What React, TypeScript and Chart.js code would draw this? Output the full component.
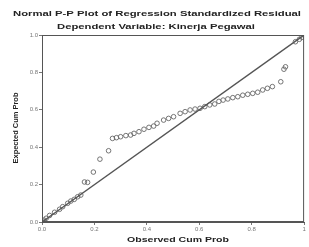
import React, { useEffect, useRef } from "react";
import { Chart, registerables } from "chart.js";

Chart.register(...registerables);

const chartTitle = "Normal P-P Plot of Regression Standardized Residual";
const chartSubtitle = "Dependent Variable: Kinerja Pegawai";
const xAxisTitle = "Observed Cum Prob";
const yAxisTitle = "Expected Cum Prob";

const xTickLabels = ["0.0", "0.2", "0.4", "0.6", "0.8", "1"];
const yTickLabels = ["0.0", "0.2", "0.4", "0.6", "0.8", "1.0"];

const observedCumProb = [
  0.0, 0.008, 0.016, 0.029, 0.048, 0.067, 0.079, 0.098, 0.11, 0.123,
  0.136, 0.148, 0.162, 0.174, 0.196, 0.221, 0.254, 0.269, 0.284, 0.3,
  0.32, 0.338, 0.351, 0.37, 0.389, 0.408, 0.426, 0.439, 0.464, 0.483,
  0.502, 0.527, 0.546, 0.565, 0.584, 0.603, 0.621, 0.64, 0.659, 0.675,
  0.691, 0.709, 0.728, 0.747, 0.766, 0.785, 0.804, 0.823, 0.842, 0.86,
  0.879, 0.911, 0.923, 0.929, 0.967, 0.982, 0.992, 1.0,
];
const expectedCumProb = [
  0.002, 0.01, 0.02, 0.035, 0.052, 0.068, 0.082, 0.1, 0.112, 0.121,
  0.135, 0.144, 0.214, 0.212, 0.267, 0.336, 0.381, 0.447, 0.451, 0.456,
  0.462, 0.465, 0.474, 0.483, 0.496, 0.506, 0.513, 0.528, 0.545, 0.554,
  0.563, 0.581, 0.59, 0.599, 0.604, 0.608, 0.617, 0.626, 0.631, 0.645,
  0.652, 0.658, 0.665, 0.67, 0.678, 0.683, 0.688, 0.694, 0.706, 0.715,
  0.724, 0.75, 0.817, 0.83, 0.964, 0.977, 0.988, 1.0,
];
const diagonalX = [0, 1];
const diagonalY = [0, 1];

function fitText(ctx: CanvasRenderingContext2D, text: string, cx: number, cy: number, width: number, angle = 0) {
  const natural = ctx.measureText(text).width;
  const sx = natural > 0 ? width / natural : 1;
  ctx.save();
  ctx.translate(cx, cy);
  if (angle) ctx.rotate(angle);
  ctx.scale(sx, 1);
  ctx.textAlign = "center";
  ctx.textBaseline = "middle";
  ctx.fillText(text, 0, 0);
  ctx.restore();
}

export default function App() {
  const canvasRef = useRef<HTMLCanvasElement | null>(null);

  useEffect(() => {
    document.body.style.margin = "0";
    const canvas = canvasRef.current;
    if (!canvas) return;

    const framePlugin = {
      id: "framePlugin",
      afterDraw(chart: any) {
        const ctx = chart.ctx;
        const a = chart.chartArea;
        ctx.save();
        ctx.strokeStyle = "#555";
        ctx.lineWidth = 1;
        ctx.strokeRect(a.left + 0.5, a.top + 0.5, a.right - a.left - 1, a.bottom - a.top - 1);
        ctx.fillStyle = "#222";
        ctx.font = "bold 8px 'Liberation Sans', Arial, sans-serif";
        fitText(ctx, chartTitle, 157, 14, 288);
        fitText(ctx, chartSubtitle, 156, 27, 198);
        fitText(ctx, xAxisTitle, 178, 240, 102);
        ctx.font = "bold 7.5px 'Liberation Sans', Arial, sans-serif";
        fitText(ctx, yAxisTitle, 16, 128, 71, -Math.PI / 2);
        ctx.restore();
      },
    };

    const points = observedCumProb.map((x, i) => ({ x, y: expectedCumProb[i] }));
    const diag = diagonalX.map((x, i) => ({ x, y: diagonalY[i] }));

    const tickFont = { size: 6, family: "'Liberation Sans', Arial, sans-serif" };

    const chart = new Chart(canvas, {
      type: "scatter",
      data: {
        datasets: [
          {
            type: "line",
            data: diag,
            borderColor: "#555",
            borderWidth: 1.4,
            pointRadius: 0,
            fill: false,
          } as any,
          {
            data: points,
            pointRadius: 2.3,
            pointBorderWidth: 0.9,
            pointBorderColor: "#666",
            pointBackgroundColor: "rgba(255,255,255,0)",
          } as any,
        ],
      },
      options: {
        responsive: false,
        animation: false,
        devicePixelRatio: 1,
        layout: { padding: { top: 35, right: 2, left: 0, bottom: 0 } },
        plugins: {
          legend: { display: false },
          tooltip: { enabled: false },
          title: { display: false },
        },
        scales: {
          x: {
            type: "linear",
            min: 0,
            max: 1,
            ticks: {
              stepSize: 0.2,
              font: tickFont,
              color: "#777",
              padding: 1,
              maxRotation: 0,
              callback: (_v: any, i: number) => xTickLabels[i],
            },
            grid: { drawOnChartArea: false, drawTicks: true, tickLength: 3, color: "#777" },
            border: { display: true, color: "#555" },
            afterFit: (scale: any) => {
              scale.height = 25;
            },
          },
          y: {
            type: "linear",
            min: 0,
            max: 1,
            ticks: {
              stepSize: 0.2,
              font: tickFont,
              color: "#777",
              padding: 1,
              callback: (_v: any, i: number) => yTickLabels[i],
            },
            grid: { drawOnChartArea: false, drawTicks: true, tickLength: 3, color: "#777" },
            border: { display: true, color: "#555" },
            afterFit: (scale: any) => {
              scale.width = 42;
            },
          },
        },
      },
      plugins: [framePlugin],
    } as any);

    return () => chart.destroy();
  }, []);

  return (
    <div style={{ position: "absolute", left: 0, top: 0, width: 309, height: 247, background: "#fff" }}>
      <canvas ref={canvasRef} width={309} height={247} style={{ display: "block" }} />
    </div>
  );
}
